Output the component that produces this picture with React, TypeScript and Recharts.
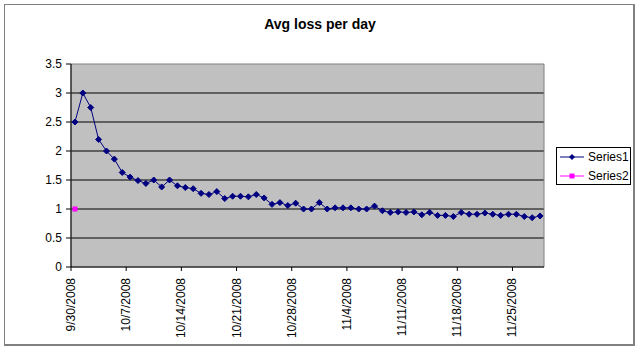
import React from 'react';
import { LineChart, Line, XAxis, YAxis, CartesianGrid, ReferenceArea } from 'recharts';

// daily average loss, 9/30/2008 .. 11/28/2008
const series1 = [
  2.5, 3.0, 2.75, 2.2, 2.0, 1.86, 1.63, 1.55, 1.49, 1.44,
  1.5, 1.38, 1.5, 1.4, 1.37, 1.35, 1.27, 1.25, 1.3, 1.18,
  1.22, 1.22, 1.21, 1.25, 1.19, 1.08, 1.11, 1.06, 1.1, 1.0,
  1.0, 1.11, 1.0, 1.02, 1.02, 1.02, 1.0, 1.0, 1.05, 0.97,
  0.94, 0.95, 0.94, 0.95, 0.9, 0.94, 0.89, 0.89, 0.87, 0.94,
  0.91, 0.91, 0.93, 0.91, 0.89, 0.91, 0.91, 0.87, 0.85, 0.88,
];
const series2 = [1];

const tickDays = [0, 7, 14, 21, 28, 35, 42, 49, 56];
const tickLabels = [
  '9/30/2008', '10/7/2008', '10/14/2008', '10/21/2008', '10/28/2008',
  '11/4/2008', '11/11/2008', '11/18/2008', '11/25/2008',
];
const yTicks = [0, 0.5, 1, 1.5, 2, 2.5, 3, 3.5];
const gridValues = [0.5, 1, 1.5, 2, 2.5, 3];

const NAVY = '#000080';
const MAGENTA = '#FF00FF';
const FONT = '"Liberation Sans", Arial, sans-serif';

// points sit in the middle of their day
const data = series1.map((v, i) => ({ day: i + 0.5, s1: v, s2: series2[i] }));

const Diamond = (props: any) => {
  const { cx, cy } = props;
  if (cx == null || cy == null) return <g />;
  const r = 3;
  return <polygon points={`${cx},${cy - r} ${cx + r},${cy} ${cx},${cy + r} ${cx - r},${cy}`} fill={NAVY} stroke={NAVY} />;
};

const Square = (props: any) => {
  const { cx, cy } = props;
  if (cx == null || cy == null) return <g />;
  return <rect x={cx - 2.5} y={cy - 2.5} width={5} height={5} fill={MAGENTA} />;
};

const DateTick = (props: any) => {
  const { x, y, payload } = props;
  const label = tickLabels[tickDays.indexOf(payload.value)];
  return (
    <text x={x} y={y} transform={`rotate(-90, ${x}, ${y})`} textAnchor="end"
      dominantBaseline="central" fontSize={12} fontFamily={FONT} fill="#000">
      {label}
    </text>
  );
};

const LegendBox = () => (
  <div style={{
    position: 'absolute', left: 556, top: 147, width: 73, height: 36,
    border: '1px solid #000', background: '#fff', fontFamily: FONT, fontSize: 12,
  }}>
    {[{ name: 'Series1', color: NAVY, mark: 'diamond' }, { name: 'Series2', color: MAGENTA, mark: 'square' }].map((s, i) => (
      <div key={s.name} style={{ position: 'absolute', left: 2, top: 2 + i * 19, height: 14, display: 'flex', alignItems: 'center' }}>
        <svg width={26} height={14}>
          <line x1={1} y1={7} x2={25} y2={7} stroke={s.color} />
          {s.mark === 'diamond'
            ? <polygon points="13,4 16,7 13,10 10,7" fill={s.color} />
            : <rect x={10.5} y={4.5} width={5} height={5} fill={s.color} />}
        </svg>
        <span style={{ marginLeft: 3 }}>{s.name}</span>
      </div>
    ))}
  </div>
);

export default function App() {
  return (
    <div style={{ position: 'absolute', left: 0, top: 0, width: 640, height: 351, background: '#fff' }}>
      <div style={{
        position: 'absolute', left: 4, top: 4, width: 628, height: 339,
        borderLeft: '1px solid #808080', borderTop: '1px solid #808080',
        borderRight: '2px solid #808080', borderBottom: '2px solid #808080',
      }} />
      <div style={{
        position: 'absolute', left: 0, top: 16, width: 640, textAlign: 'center',
        fontFamily: FONT, fontSize: 14, fontWeight: 'bold', color: '#000',
      }}>
        Avg loss per day
      </div>
      <div style={{ position: 'absolute', left: 0, top: 0 }}>
        <LineChart width={640} height={351} data={data} margin={{ top: 64, right: 96, left: 0, bottom: 0 }}>
          <CartesianGrid vertical={false} horizontalValues={gridValues} stroke="#000" fill="#C0C0C0" fillOpacity={1} />
          <ReferenceArea x1={0} x2={series1.length} y1={0} y2={3.5} fill="none" stroke="#808080" ifOverflow="visible" />
          <XAxis type="number" dataKey="day" domain={[0, series1.length]} ticks={tickDays}
            tick={<DateTick />} tickSize={4} tickMargin={7} height={84}
            axisLine={{ stroke: '#000' }} tickLine={{ stroke: '#000' }} interval={0} />
          <YAxis domain={[0, 3.5]} ticks={yTicks} width={71} tickSize={5} tickMargin={4}
            tick={{ fontSize: 12, fill: '#000', fontFamily: FONT }}
            axisLine={{ stroke: '#000' }} tickLine={{ stroke: '#000' }} interval={0} />
          <Line dataKey="s1" stroke={NAVY} strokeWidth={1} dot={<Diamond />} isAnimationActive={false} />
          <Line dataKey="s2" stroke={MAGENTA} strokeWidth={1} dot={<Square />} isAnimationActive={false} />
        </LineChart>
      </div>
      <LegendBox />
    </div>
  );
}
